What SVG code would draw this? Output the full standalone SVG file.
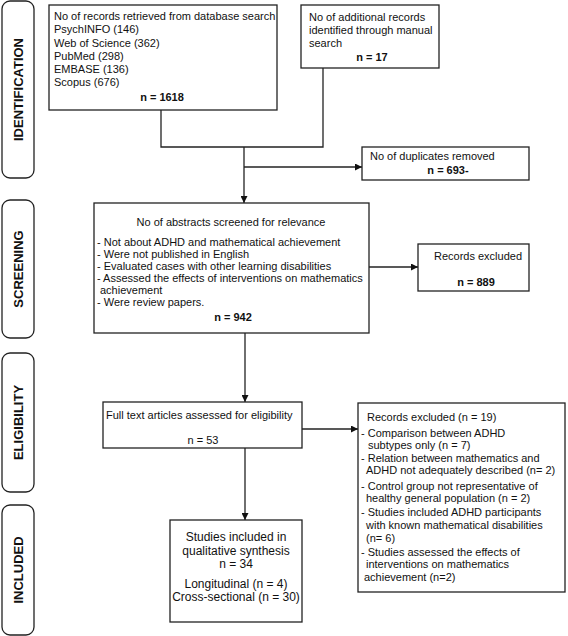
<svg xmlns="http://www.w3.org/2000/svg" width="568" height="636" viewBox="0 0 568 636">
<style>
.box{fill:#fff;stroke:#222;stroke-width:1.3}
.side{fill:#fff;stroke:#222;stroke-width:1.3}
.t{font-family:"Liberation Sans",Arial,sans-serif;font-size:11px;fill:#111}
.t12{font-family:"Liberation Sans",Arial,sans-serif;font-size:12px;fill:#111}
.b{font-weight:bold}
.lab{font-family:"Liberation Sans",Arial,sans-serif;font-size:13px;font-weight:bold;fill:#111}
.c{text-anchor:middle}
.ln{fill:none;stroke:#222;stroke-width:1.3}
</style>
<defs>
<marker id="ah" viewBox="0 0 10 10" refX="10" refY="5" markerWidth="7" markerHeight="7" markerUnits="userSpaceOnUse" orient="auto">
<path d="M0,0 L10,5 L0,10 z" fill="#111"/>
</marker>
</defs>
<rect width="568" height="636" fill="#fff"/>

<g id="stage-identification">
<rect class="side" x="2" y="1" width="32" height="177" rx="8"/>
<text class="lab c" transform="translate(23,89.5) rotate(-90)">IDENTIFICATION</text>
</g>
<g id="stage-screening">
<rect class="side" x="2" y="200" width="32" height="138" rx="8"/>
<text class="lab c" transform="translate(23,269) rotate(-90)">SCREENING</text>
</g>
<g id="stage-eligibility">
<rect class="side" x="2" y="353" width="32" height="139" rx="8"/>
<text class="lab c" transform="translate(23,422.5) rotate(-90)">ELIGIBILITY</text>
</g>
<g id="stage-included">
<rect class="side" x="2" y="505" width="32" height="130" rx="8"/>
<text class="lab c" transform="translate(23,570) rotate(-90)">INCLUDED</text>
</g>

<g id="connectors">
<path class="ln" d="M161,110 V147 H323 V68"/>
<path class="ln" d="M244,147 V203" marker-end="url(#ah)"/>
<path class="ln" d="M244,167 H362" marker-end="url(#ah)"/>
<path class="ln" d="M369,267 H418" marker-end="url(#ah)"/>
<path class="ln" d="M245,333 V402" marker-end="url(#ah)"/>
<path class="ln" d="M302,429 H358" marker-end="url(#ah)"/>
<path class="ln" d="M245,448 V520" marker-end="url(#ah)"/>
</g>

<g id="database-search">
<rect class="box" x="49" y="5" width="228" height="105"/>
<text class="t" x="54" y="20">No of records retrieved from database search</text>
<text class="t" x="54" y="33">PsychINFO (146)</text>
<text class="t" x="54" y="47">Web of Science (362)</text>
<text class="t" x="54" y="60">PubMed (298)</text>
<text class="t" x="54" y="73">EMBASE (136)</text>
<text class="t" x="54" y="86">Scopus (676)</text>
<text class="t b c" x="162" y="101">n = 1618</text>
</g>

<g id="manual-search">
<rect class="box" x="301" y="5" width="138" height="63"/>
<text class="t" x="309" y="21">No of additional records</text>
<text class="t" x="309" y="34">identified through manual</text>
<text class="t" x="309" y="47">search</text>
<text class="t b c" x="372" y="61">n = 17</text>
</g>

<g id="duplicates">
<rect class="box" x="362" y="147" width="167" height="33"/>
<text class="t" x="370" y="160">No of duplicates removed</text>
<text class="t b c" x="448" y="174">n = 693-</text>
</g>

<g id="abstracts-screened">
<rect class="box" x="94" y="203" width="275" height="130"/>
<text class="t c" x="231" y="226">No of abstracts screened for relevance</text>
<text class="t" x="97" y="246">- Not about ADHD and mathematical achievement</text>
<text class="t" x="97" y="258">- Were not published in English</text>
<text class="t" x="97" y="270">- Evaluated cases with other learning disabilities</text>
<text class="t" x="97" y="282">- Assessed the effects of interventions on mathematics</text>
<text class="t" x="100" y="294">achievement</text>
<text class="t" x="97" y="306">- Were review papers.</text>
<text class="t b c" x="233" y="321">n = 942</text>
</g>

<g id="records-excluded-889">
<rect class="box" x="418" y="244" width="111" height="47"/>
<text class="t c" x="478" y="260">Records excluded</text>
<text class="t b c" x="476" y="286">n = 889</text>
</g>

<g id="full-text">
<rect class="box" x="103" y="402" width="199" height="46"/>
<text class="t" x="106" y="419">Full text articles assessed for eligibility</text>
<text class="t c" x="203" y="444">n = 53</text>
</g>

<g id="records-excluded-19">
<rect class="box" x="358" y="403" width="207" height="189"/>
<text class="t" x="367" y="421">Records excluded (n = 19)</text>
<text class="t" x="361" y="437">- Comparison between ADHD</text>
<text class="t" x="368" y="449">subtypes only (n = 7)</text>
<text class="t" x="361" y="462">- Relation between mathematics and</text>
<text class="t" x="366" y="474">ADHD  not adequately described (n= 2)</text>
<text class="t" x="361" y="490">- Control group not representative of</text>
<text class="t" x="366" y="502">healthy general population (n = 2)</text>
<text class="t" x="361" y="516">- Studies included ADHD participants</text>
<text class="t" x="366" y="529">with known mathematical disabilities</text>
<text class="t" x="366" y="542">(n= 6)</text>
<text class="t" x="361" y="556">- Studies assessed the effects of</text>
<text class="t" x="366" y="568">interventions on mathematics</text>
<text class="t" x="364" y="581">achievement (n=2)</text>
</g>

<g id="studies-included">
<rect class="box" x="170" y="520" width="132" height="102"/>
<text class="t12 c" x="236" y="541">Studies included in</text>
<text class="t12 c" x="236" y="555">qualitative synthesis</text>
<text class="t12 c" x="236" y="568">n = 34</text>
<text class="t12 c" x="236" y="588">Longitudinal (n = 4)</text>
<text class="t12 c" x="236" y="601">Cross-sectional (n = 30)</text>
</g>
</svg>
